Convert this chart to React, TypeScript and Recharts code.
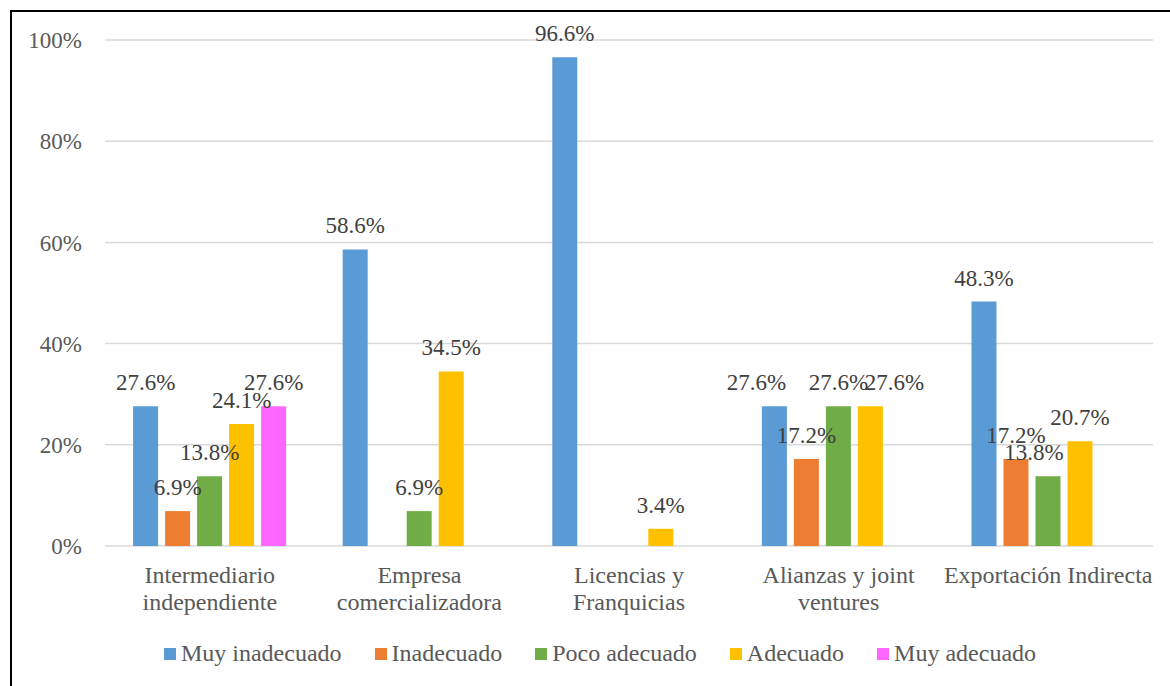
import React from "react";
import { BarChart, Bar, XAxis, YAxis, CartesianGrid, LabelList } from "recharts";

// categories (line breaks as in the original axis)
const categories = [
  "Intermediario\nindependiente",
  "Empresa\ncomercializadora",
  "Licencias y\nFranquicias",
  "Alianzas y joint\nventures",
  "Exportación Indirecta",
];

const seriesNames = ["Muy inadecuado", "Inadecuado", "Poco adecuado", "Adecuado", "Muy adecuado"];
const seriesColors = ["#5B9BD5", "#ED7D31", "#70AD47", "#FFC000", "#FF66FF"];

const muyInadecuado = [27.6, 58.6, 96.6, 27.6, 48.3];
const inadecuado = [6.9, 0, 0, 17.2, 17.2];
const pocoAdecuado = [13.8, 6.9, 0, 27.6, 13.8];
const adecuado = [24.1, 34.5, 3.4, 27.6, 20.7];
const muyAdecuado = [27.6, 0, 0, 0, 0];

const yTicks = [0, 20, 40, 60, 80, 100];

const seriesValues = [muyInadecuado, inadecuado, pocoAdecuado, adecuado, muyAdecuado];
const keys = ["s0", "s1", "s2", "s3", "s4"];

// horizontal nudges of data labels that were moved apart in the original (series -> category -> px)
const labelNudge: Record<number, Record<number, number>> = {
  0: { 3: -18 },
  2: { 3: -14 },
  3: { 3: 24 },
};

const data = categories.map((name, i) => {
  const row: Record<string, string | number> = { name };
  seriesValues.forEach((vals, s) => {
    row[keys[s]] = vals[i];
  });
  return row;
});

const FONT = '"Liberation Serif", "Times New Roman", serif';

function CategoryTick(props: any) {
  const { x, y, payload } = props;
  const lines = String(payload.value).split("\n");
  return (
    <text x={x} y={y} textAnchor="middle" fill="#595959" fontSize={24} style={{ fontFamily: FONT }}>
      {lines.map((line, i) => (
        <tspan key={i} x={x} dy={i === 0 ? 29 : 27}>
          {line}
        </tspan>
      ))}
    </text>
  );
}

const makeLabel = (s: number) => (props: any) => {
  const { x, y, width, value, index } = props;
  if (!value) return null;
  const nudge = (labelNudge[s] && labelNudge[s][index]) || 0;
  return (
    <text
      x={Number(x) + Number(width) / 2 + nudge}
      y={Number(y) - 16}
      textAnchor="middle"
      fill="#404040"
      fontSize={23}
      style={{ fontFamily: FONT }}
    >
      {`${Number(value).toFixed(1)}%`}
    </text>
  );
};

export default function App() {
  return (
    <div style={{ position: "absolute", left: 0, top: 0, width: 1170, height: 686, overflow: "hidden", background: "#fff" }}>
      <div
        style={{
          position: "absolute",
          left: 10,
          top: 10,
          width: 1170,
          height: 700,
          borderLeft: "2px solid #000",
          borderTop: "2px solid #000",
        }}
      />
      <div style={{ position: "absolute", left: 0, top: 0 }}>
        <BarChart
          width={1170}
          height={686}
          data={data}
          margin={{ top: 40, right: 17, left: 0, bottom: 0 }}
          barCategoryGap="13.4%"
          barGap={7}
          style={{ fontFamily: FONT }}
        >
          <CartesianGrid vertical={false} stroke="#d9d9d9" strokeWidth={1.5} />
          <XAxis
            dataKey="name"
            height={140}
            axisLine={false}
            tickLine={false}
            interval={0}
            tick={<CategoryTick />}
          />
          <YAxis
            width={105}
            domain={[0, 100]}
            ticks={yTicks}
            axisLine={false}
            tickLine={false}
            tickMargin={17}
            tickFormatter={(v: number) => `${v}%`}
            tick={{ fill: "#595959", fontSize: 23, fontFamily: FONT }}
          />
          {keys.map((k, s) => (
            <Bar key={k} dataKey={k} name={seriesNames[s]} fill={seriesColors[s]} isAnimationActive={false}>
              <LabelList dataKey={k} content={makeLabel(s)} />
            </Bar>
          ))}
        </BarChart>
      </div>
      <div
        style={{
          position: "absolute",
          left: 0,
          top: 640,
          width: 1200,
          display: "flex",
          justifyContent: "center",
          gap: 33,
          fontFamily: FONT,
          fontSize: 24,
          color: "#595959",
        }}
      >
        {seriesNames.map((n, s) => (
          <div key={n} style={{ display: "flex", alignItems: "center" }}>
            <span style={{ display: "inline-block", width: 12, height: 12, background: seriesColors[s], marginRight: 5 }} />
            <span>{n}</span>
          </div>
        ))}
      </div>
    </div>
  );
}
